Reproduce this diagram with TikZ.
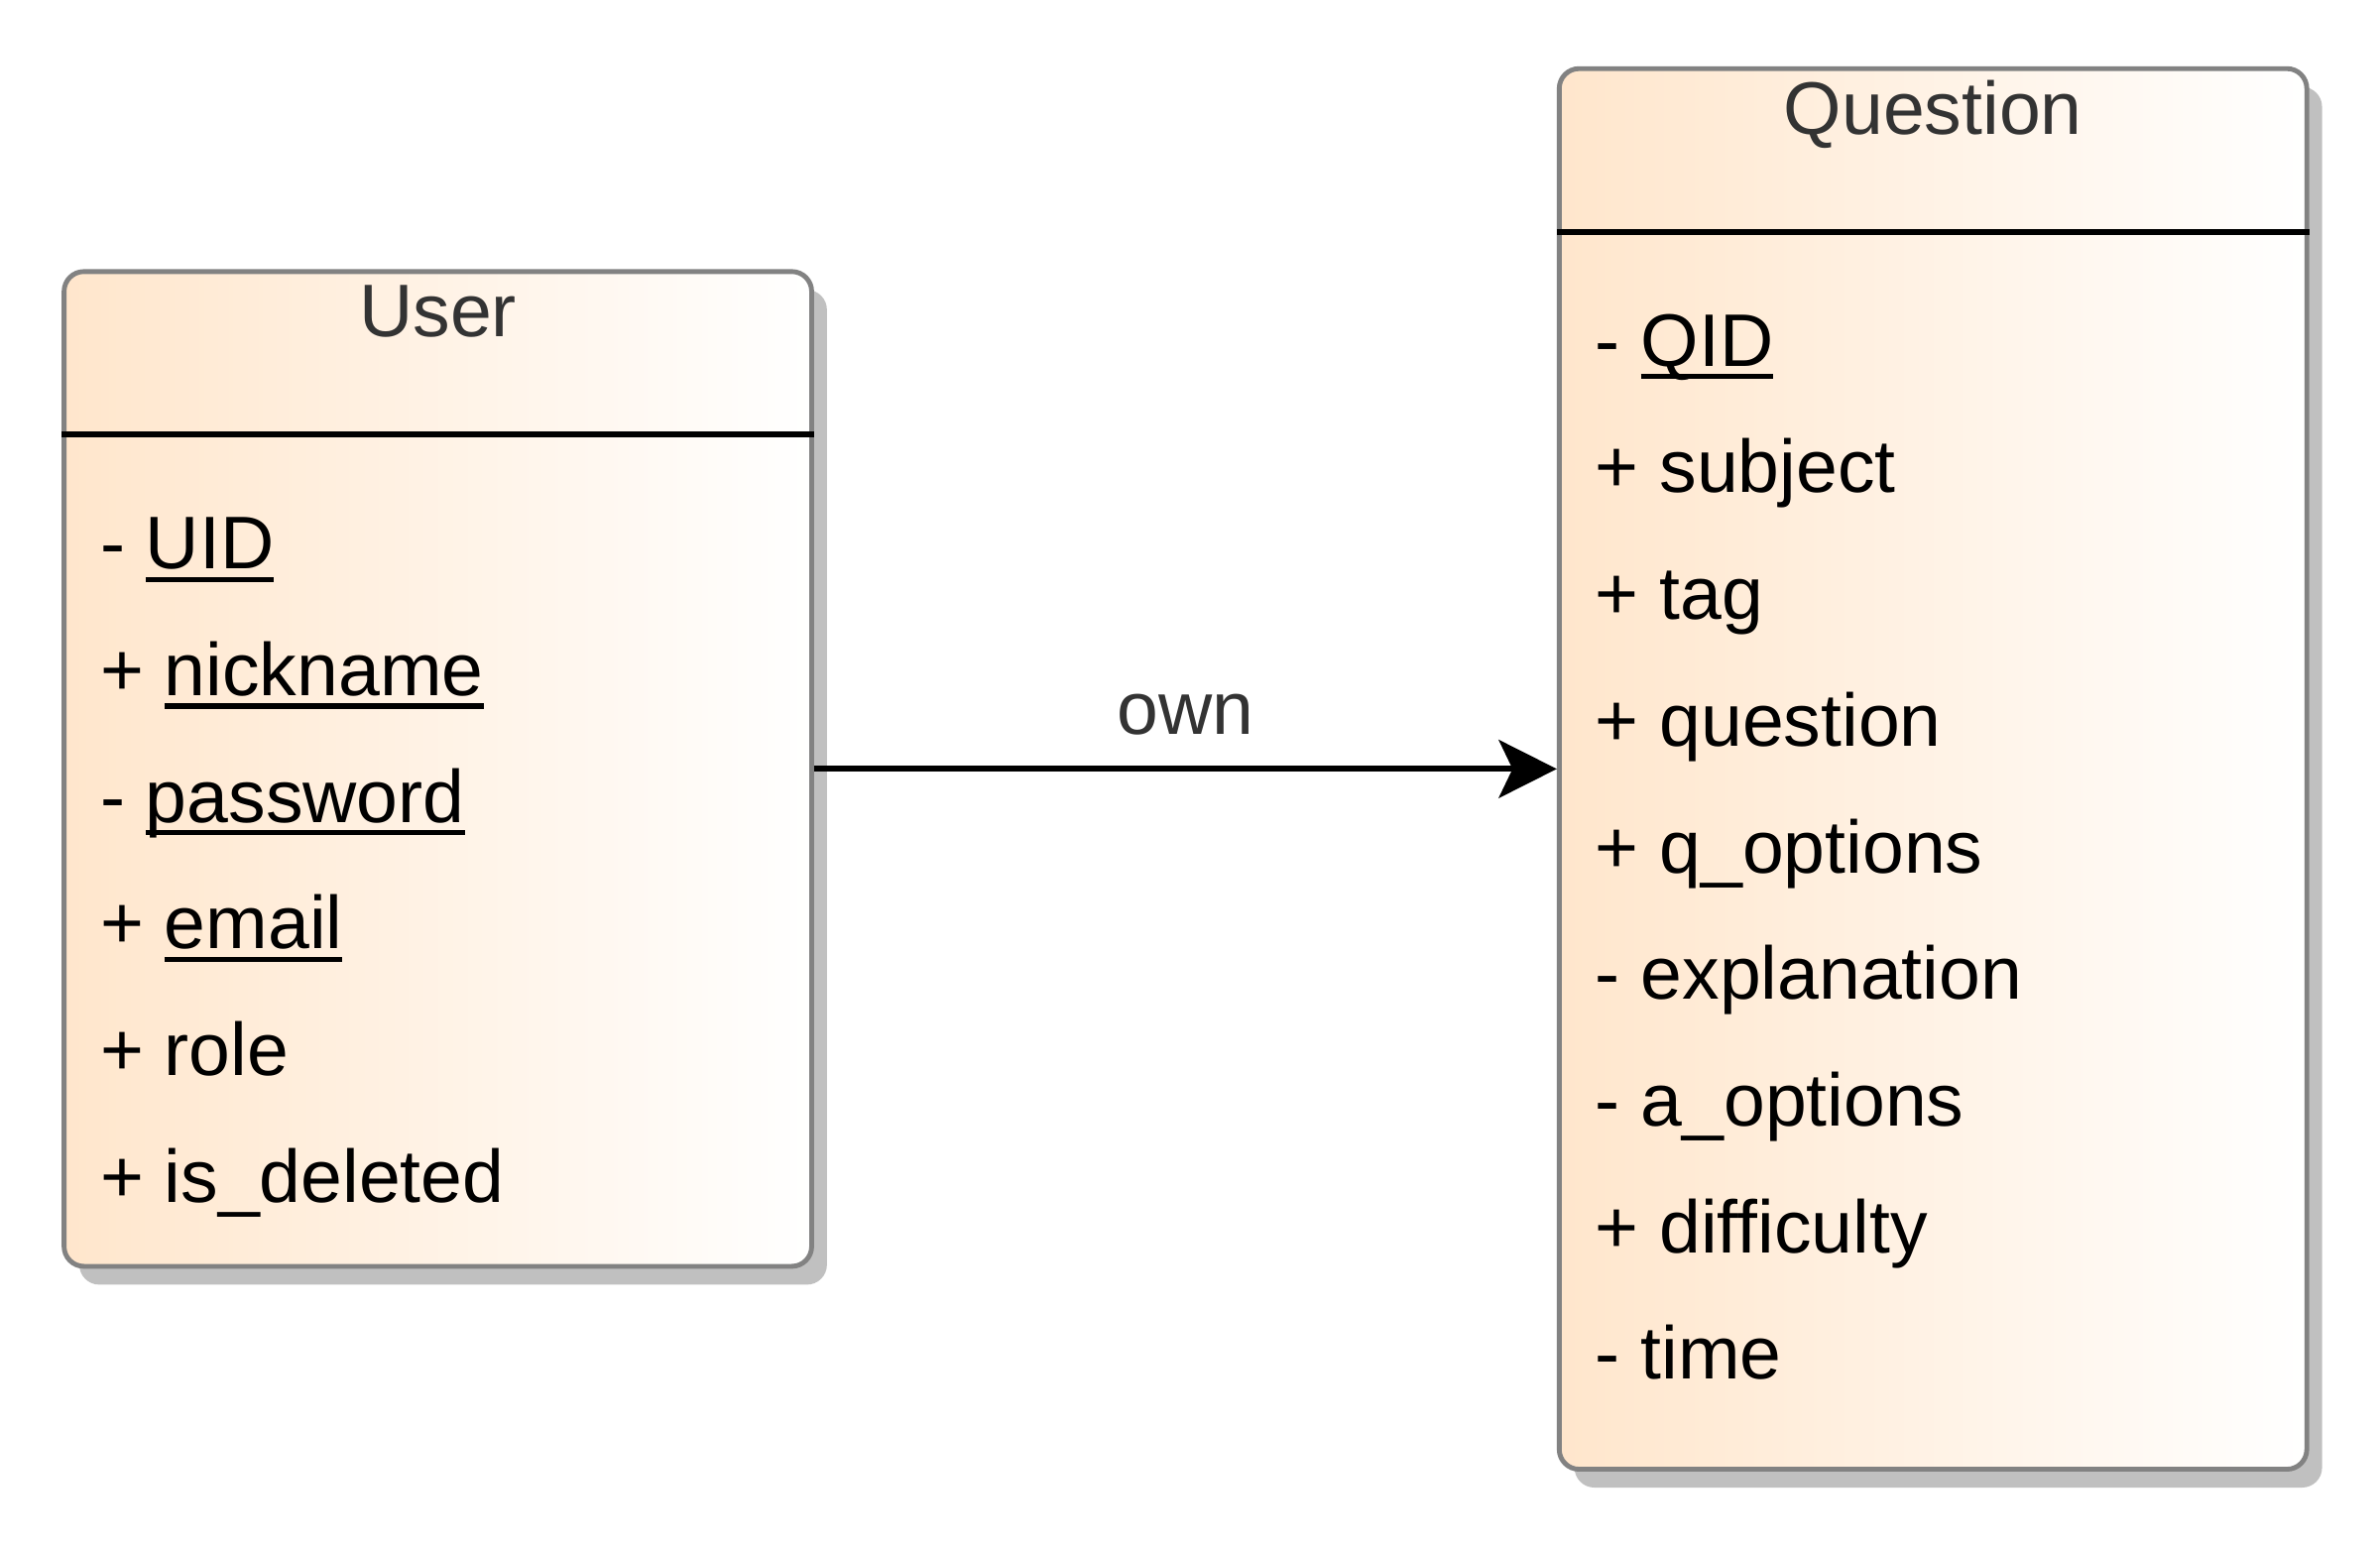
\documentclass[tikz,border=0pt]{standalone}
\usepackage{fontspec}
\setmainfont{Liberation Sans}
\usetikzlibrary{arrows.meta,shadows}
\definecolor{peach}{HTML}{FFE6CC}
\definecolor{framegray}{HTML}{828282}
\definecolor{shadowgray}{HTML}{C0C0C0}
\definecolor{labelgray}{HTML}{333333}
\newcommand{\uname}[1]{\setbox0\hbox{#1}\rlap{\rule[-0.085cm]{\wd0}{0.035cm}}\box0}
\tikzset{
  classbox/.style={rectangle, rounded corners=0.13cm, draw=framegray, line width=0.9pt,
    left color=peach, right color=white, inner sep=0pt,
    general shadow={fill=shadowgray, shadow xshift=0.1cm, shadow yshift=-0.12cm}},
  classname/.style={anchor=base, inner sep=0pt, text=labelgray, font=\fontsize{13.9}{16}\selectfont},
  attr/.style={anchor=base west, inner sep=0pt, font=\fontsize{13.9}{16}\selectfont},
  sepline/.style={line width=1.1pt},
  ownarrow/.style={line width=1.1pt, -{Stealth[length=0.38cm, width=0.38cm, inset=0.09cm]}},
  edgelabel/.style={anchor=base, yshift=0.23cm, inner sep=0pt, text=labelgray, font=\fontsize{13.9}{16}\selectfont}
}
\begin{document}
\begin{tikzpicture}
\useasboundingbox (0,0) rectangle (15.6,10.16);
 %% class User
\node[classbox, minimum width=4.9cm, minimum height=6.52cm] (user) at (2.87,5.12) {};
\node[classname] (user-name) at (2.87,7.95) {User};
\draw[sepline] (user.west |- 0,7.31) -- (user.east |- 0,7.31);
\node[attr] (uid) at (0.65,6.43) {- \uname{UID}};
\node[attr] (nickname) at (0.65,5.60) {+ \uname{nickname}};
\node[attr] (password) at (0.65,4.77) {- \uname{password}};
\node[attr] (email) at (0.65,3.94) {+ \uname{email}};
\node[attr] (role) at (0.65,3.11) {+ role};
\node[attr] (isdeleted) at (0.65,2.28) {+ is\_deleted};
 %% class Question
\node[classbox, minimum width=4.9cm, minimum height=9.18cm] (question) at (12.67,5.12) {};
\node[classname] (question-name) at (12.67,9.28) {Question};
\draw[sepline] (question.west |- 0,8.64) -- (question.east |- 0,8.64);
\node[attr] (qid) at (10.45,7.76) {- \uname{QID}};
\node[attr] (subject) at (10.45,6.93) {+ subject};
\node[attr] (tag) at (10.45,6.10) {+ tag};
\node[attr] (qtext) at (10.45,5.27) {+ question};
\node[attr] (qoptions) at (10.45,4.44) {+ q\_options};
\node[attr] (explanation) at (10.45,3.61) {- explanation};
\node[attr] (aoptions) at (10.45,2.78) {- a\_options};
\node[attr] (difficulty) at (10.45,1.95) {+ difficulty};
\node[attr] (time) at (10.45,1.12) {- time};
 %% association
\draw[ownarrow] (user) -- node[edgelabel] (own) {own} (question);
\end{tikzpicture}
\end{document}
